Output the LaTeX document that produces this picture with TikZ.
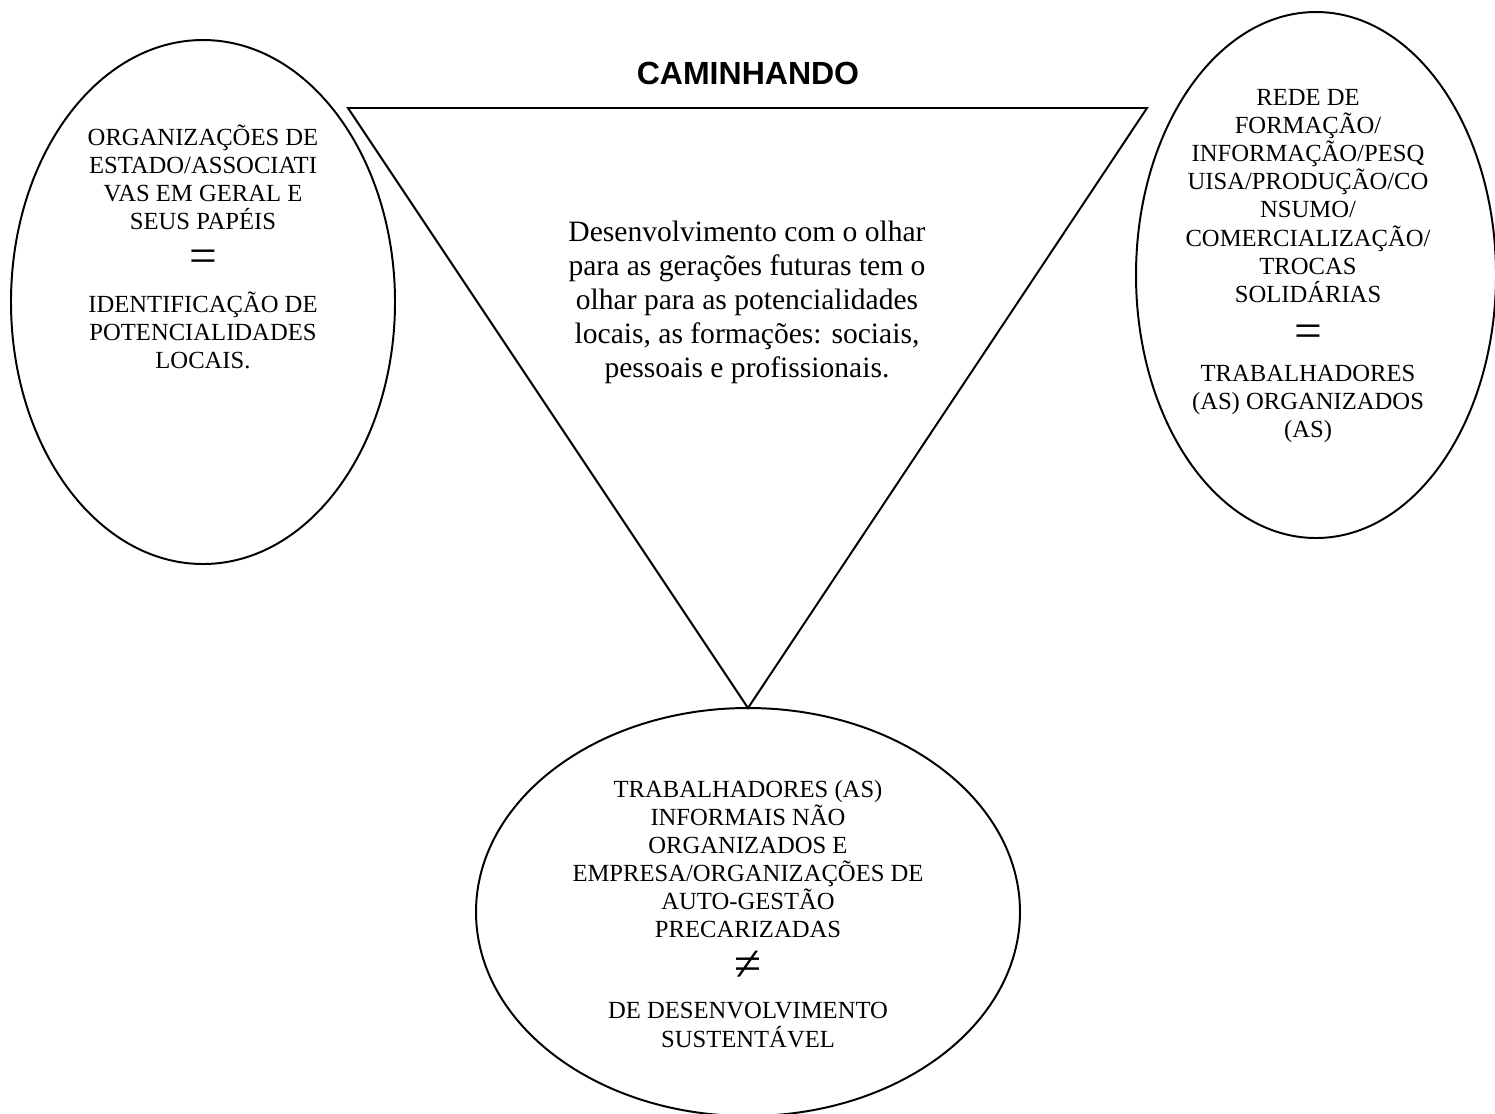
\documentclass[tikz,border=0pt]{standalone}
\usepackage{fontspec}
\setmainfont{Liberation Serif}
\newfontfamily\titlefont{Liberation Sans}

\tikzset{
  bubble/.style={draw, line width=0.8pt},
  caps/.style={align=center, inner sep=0pt, font=\fontsize{10}{11.4}\selectfont},
  body/.style={align=center, inner sep=0pt, font=\fontsize{12}{13.8}\selectfont},
  sign/.style={inner sep=0pt, text height=8pt, text depth=0pt, font=\fontsize{20}{20}\selectfont},
  heading/.style={inner sep=0pt, font=\titlefont\bfseries\fontsize{13}{15}\selectfont},
}

\begin{document}
\begin{tikzpicture}[x=0.406pt, y=0.406pt]

    \useasboundingbox (0,0) rectangle (1495,-1113);

    % Define the points
    \coordinate (TL) at (348,-108);
    \coordinate (TR) at (1147,-108);
    \coordinate (apex) at (748,-708);
    \coordinate (cLeft) at (203,-302);
    \coordinate (cRight) at (1316,-275);
    \coordinate (cBottom) at (748,-912);

    % Draw the triangle and the three ellipses
    \draw[line width=0.8pt] (TL) -- (TR) -- (apex) -- cycle;
    \draw[bubble] (cLeft) ellipse (192 and 262);
    \draw[bubble] (cRight) ellipse (180 and 263);
    \draw[bubble] (cBottom) ellipse (272 and 204);

    % Title
    \node[heading] (title) at (748,-73) {CAMINHANDO};

    % Middle of the triangle
    \node[body] (centre) at (747,-302) {Desenvolvimento com o olhar\\para as gerações futuras tem o\\olhar para as potencialidades\\locais, as formações: sociais,\\pessoais e profissionais.};

    % Left ellipse
    \node[caps] (orgTop) at (203,-177) {ORGANIZAÇÕES DE\\ESTADO/ASSOCIATI\\VAS EM GERAL E\\SEUS PAPÉIS};
    \node[sign] (orgEq) at (203,-263) {=};
    \node[caps] (orgBottom) at (203,-330) {IDENTIFICAÇÃO DE\\POTENCIALIDADES\\LOCAIS.};

    % Right ellipse
    \node[caps] (redeTop) at (1308,-196) {REDE DE\\FORMAÇÃO/\\INFORMAÇÃO/PESQ\\UISA/PRODUÇÃO/CO\\NSUMO/\\COMERCIALIZAÇÃO/\\TROCAS\\SOLIDÁRIAS};
    \node[sign] (redeEq) at (1308,-338) {=};
    \node[caps] (redeBottom) at (1308,-404) {TRABALHADORES\\(AS) ORGANIZADOS\\(AS)};

    % Bottom ellipse
    \node[caps] (infTop) at (748,-859) {TRABALHADORES (AS)\\INFORMAIS NÃO\\ORGANIZADOS E\\EMPRESA/ORGANIZAÇÕES DE\\AUTO-GESTÃO\\PRECARIZADAS};
    \node[sign] (infNeq) at (748,-971) {≠};
    \node[caps] (infBottom) at (748,-1025) {DE DESENVOLVIMENTO\\SUSTENTÁVEL};

\end{tikzpicture}
\end{document}
